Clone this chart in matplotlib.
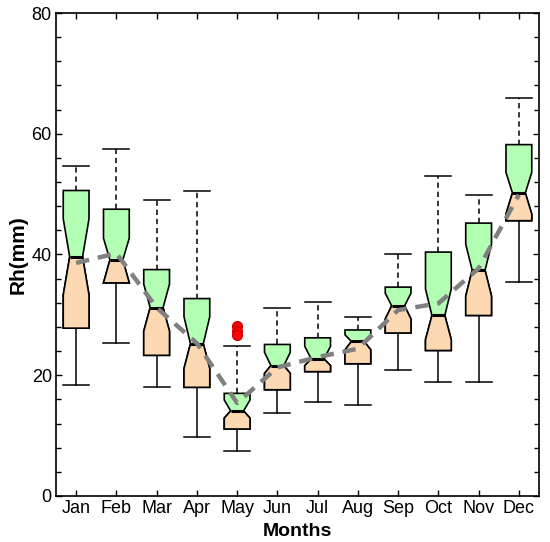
import matplotlib
matplotlib.use('Agg')
import matplotlib.pyplot as plt
from matplotlib.patches import PathPatch, Rectangle
from matplotlib.ticker import MultipleLocator

plt.rcParams['font.family'] = ['Liberation Sans', 'DejaVu Sans']

months = ['Jan', 'Feb', 'Mar', 'Apr', 'May', 'Jun',
          'Jul', 'Aug', 'Sep', 'Oct', 'Nov', 'Dec']
# box statistics
whislo = [18.4, 25.4, 18.0, 9.8, 7.4, 13.7, 15.6, 15.0, 20.9, 18.8, 18.8, 35.5]
q1 = [27.8, 35.3, 23.3, 18.0, 11.1, 17.6, 20.6, 21.9, 27.0, 24.1, 29.9, 45.6]
med = [39.6, 39.1, 31.2, 25.2, 14.1, 21.6, 22.7, 25.6, 31.5, 29.9, 37.4, 50.2]
q3 = [50.6, 47.5, 37.5, 32.7, 17.0, 25.1, 26.2, 27.5, 34.6, 40.4, 45.2, 58.2]
whishi = [54.6, 57.4, 49.0, 50.6, 24.8, 31.2, 32.2, 29.6, 40.0, 53.0, 49.8, 65.9]
cilo = [33.3, 35.3, 27.3, 21.1, 12.9, 20.3, 21.6, 24.2, 29.3, 25.9, 33.1, 46.7]
cihi = [45.9, 42.7, 35.1, 29.7, 15.9, 23.8, 24.8, 26.7, 33.6, 34.3, 41.7, 53.6]
fliers = [[], [], [], [], [28.2, 27.4, 26.6], [], [], [], [], [], [], []]
means = [38.6, 40.2, 31.2, 25.3, 15.4, 21.3, 23.0, 24.4, 30.8, 31.9, 37.7, 49.9]

green = '#b3ffb3'
orange = '#fdd9b3'

stats = []
for i in range(12):
    stats.append({'whislo': whislo[i], 'q1': q1[i], 'med': med[i], 'q3': q3[i],
                  'whishi': whishi[i], 'cilo': cilo[i], 'cihi': cihi[i],
                  'fliers': fliers[i], 'label': months[i]})

fig = plt.figure(figsize=(5.5, 5.42), dpi=100)
ax = fig.add_axes([56/550, 1-496/542, (539-56)/550, (496-13)/542])

pos = list(range(1, 13))
w = 0.64
res = ax.bxp(stats, positions=pos, widths=w, capwidths=w, shownotches=True,
             patch_artist=True, showfliers=True,
             boxprops=dict(facecolor=green, edgecolor='black', linewidth=1.2),
             medianprops=dict(color='black', linewidth=2.2),
             whiskerprops=dict(color='black', linewidth=1.1),
             capprops=dict(color='black', linewidth=1.1),
             flierprops=dict(marker='o', markerfacecolor='#ff0000',
                             markeredgecolor='#cc0000', markersize=7))

# upper whiskers dashed
for i in range(12):
    res['whiskers'][2*i+1].set_linestyle((0, (3.5, 2.5)))

# lower half of each box in orange
for i, box in enumerate(res['boxes']):
    low = PathPatch(box.get_path(), facecolor=orange, edgecolor='black',
                    linewidth=1.2, zorder=box.get_zorder() + 0.01)
    ax.add_patch(low)
    clip = Rectangle((pos[i] - 0.5, q1[i] - 1), 1.0, med[i] - q1[i] + 1,
                     transform=ax.transData)
    low.set_clip_path(clip)
for m in res['medians']:
    m.set_zorder(3)

ax.plot(pos, means, color='#808080', linewidth=3.2, linestyle=(0, (3, 2)), zorder=4)

ax.set_xlim(0.5, 12.5)
ax.set_ylim(0, 80)
ax.set_xticks(pos)
ax.set_xticklabels(months)
ax.yaxis.set_major_locator(MultipleLocator(20))
ax.yaxis.set_minor_locator(MultipleLocator(4))
ax.tick_params(which='both', direction='in', top=True, right=True, labelsize=13)
ax.tick_params(which='major', length=4.5, width=1.0, pad=3)
ax.tick_params(which='minor', length=3.5, width=1.0)
for s in ax.spines.values():
    s.set_linewidth(1.2)

ax.set_xlabel('Months', fontsize=14, fontweight='bold', labelpad=4)
ax.set_ylabel('Rh(mm)', fontsize=15, fontweight='bold', labelpad=3)

fig.savefig('out.png', dpi=100)
